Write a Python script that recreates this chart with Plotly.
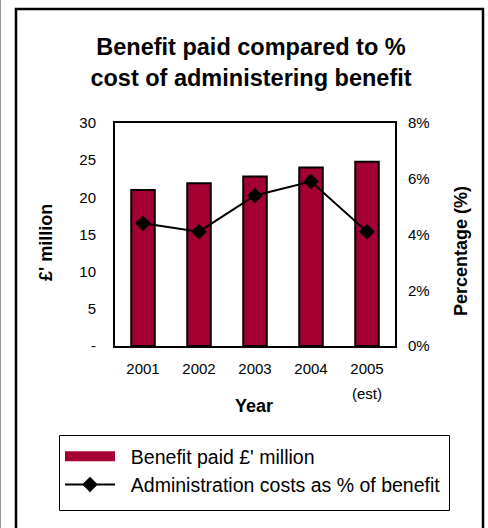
import plotly.graph_objects as go

years = ["2001", "2002", "2003", "2004", "2005"]
benefit_paid = [21.0, 21.9, 22.8, 24.0, 24.8]
admin_pct = [4.4, 4.1, 5.4, 5.9, 4.1]
left_ticks = [0, 5, 10, 15, 20, 25, 30]
left_ticktext = ["-", "5", "10", "15", "20", "25", "30"]
right_ticks = [0, 2, 4, 6, 8]
right_ticktext = ["0%", "2%", "4%", "6%", "8%"]

FONT = "Liberation Sans, Arial, sans-serif"
BAR = "#A50034"
W, H = 488, 528
L, R, T, B = 115, 93, 123, 182
pw, ph = W - L - R, H - T - B


def px(x):
    return (x - L) / pw


def py(y):
    return (H - B - y) / ph


NB = "\u00a0\u00a0"

fig = go.Figure()
fig.add_trace(go.Bar(
    x=years, y=benefit_paid, name="Benefit paid £' million",
    marker=dict(color=BAR, line=dict(color="black", width=2)),
    showlegend=False, yaxis="y",
))
# legend entry for the bars (wide swatch as in the reference legend)
fig.add_trace(go.Scatter(
    x=[None], y=[None], name=NB + "Benefit paid £' million", mode="lines",
    line=dict(color=BAR, width=12), legendgroup="a", yaxis="y",
))
fig.add_trace(go.Scatter(
    x=years, y=admin_pct, name=NB + "Administration costs as % of benefit",
    mode="lines+markers", line=dict(color="black", width=2),
    marker=dict(symbol="diamond", size=12, color="black"),
    legendgroup="b", yaxis="y2",
))

fig.update_layout(
    width=W, height=H,
    margin=dict(l=L, r=R, t=T, b=B, autoexpand=False),
    paper_bgcolor="white", plot_bgcolor="white",
    font=dict(family=FONT, size=15, color="black"),
    bargap=0.58,
    showlegend=True,
    title=dict(
        text="Benefit paid compared to %<br>cost of administering benefit",
        font=dict(family=FONT, size=23.5, color="black", weight="bold"),
        x=251 / W, xref="container", xanchor="center",
        y=1 - 55 / H, yref="container", yanchor="top",
    ),
    xaxis=dict(
        type="category", automargin=False,
        showgrid=False, showline=True, linecolor="black", linewidth=2,
        mirror=True, ticks="", ticklabelstandoff=8, tickfont=dict(size=15),
    ),
    yaxis=dict(
        range=[0, 30], tickvals=left_ticks, ticktext=left_ticktext,
        automargin=False,
        showgrid=False, showline=True, linecolor="black", linewidth=2,
        mirror=True, ticks="", ticklabelstandoff=14, zeroline=False,
        tickfont=dict(size=15),
    ),
    yaxis2=dict(
        range=[0, 8], tickvals=right_ticks, ticktext=right_ticktext,
        automargin=False,
        overlaying="y", side="right", showgrid=False, zeroline=False,
        showline=False, ticks="", ticklabelstandoff=12,
        tickfont=dict(size=15),
    ),
    legend=dict(
        xref="container", yref="container",
        x=60 / W, y=1 - 437 / H, xanchor="left", yanchor="top",
        borderwidth=0, bgcolor="rgba(0,0,0,0)",
        font=dict(size=19.5), itemwidth=50, traceorder="grouped",
        tracegroupgap=0,
    ),
    annotations=[
        dict(text="(est)", x=4, xref="x", y=py(393), yref="paper",
             showarrow=False, font=dict(size=15), xanchor="center", yanchor="middle"),
        dict(text="<b>Year</b>", x=px(254), xref="paper", y=py(406), yref="paper",
             showarrow=False, font=dict(size=18), xanchor="center", yanchor="middle"),
        dict(text="<b>£' million</b>", x=px(46), xref="paper", y=py(243), yref="paper",
             showarrow=False, font=dict(size=18), textangle=-90,
             xanchor="center", yanchor="middle"),
        dict(text="<b>Percentage (%)</b>", x=px(461), xref="paper", y=py(251), yref="paper",
             showarrow=False, font=dict(size=18), textangle=-90,
             xanchor="center", yanchor="middle"),
    ],
    shapes=[
        dict(type="rect", xref="paper", yref="paper",
             x0=px(16), x1=px(483), y0=py(560), y1=py(9),
             line=dict(color="black", width=2.5), layer="below"),
        dict(type="rect", xref="paper", yref="paper",
             x0=px(59.5), x1=px(449.5), y0=py(510.5), y1=py(435.5),
             line=dict(color="black", width=1), layer="below"),
        dict(type="line", xref="paper", yref="paper",
             x0=px(0.5), x1=px(0.5), y0=py(0), y1=py(528),
             line=dict(color="#999999", width=1)),
    ],
)

fig.write_html("out.html", config={"displayModeBar": False},
               post_script="document.body.style.margin='0';")
